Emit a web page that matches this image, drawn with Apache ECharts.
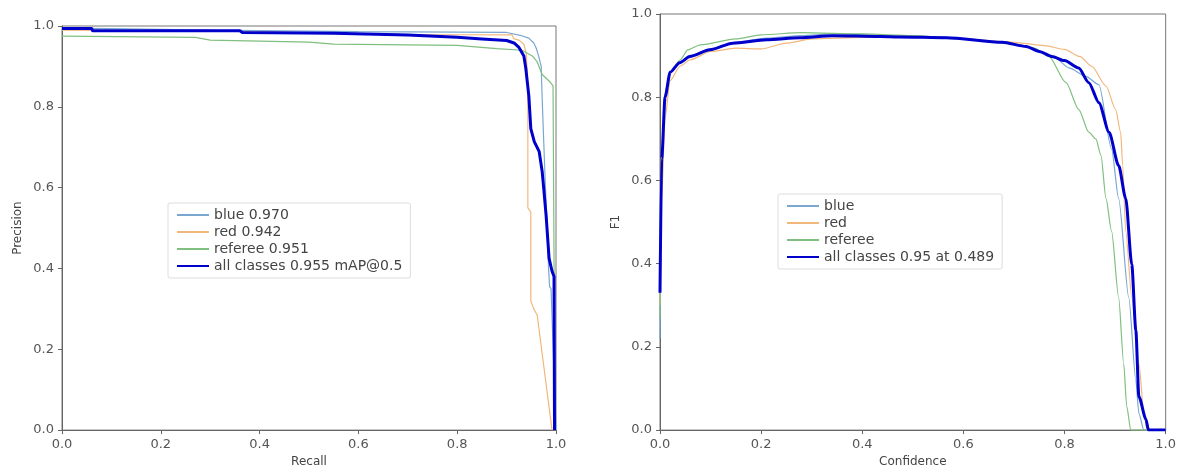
<!DOCTYPE html>
<html>
<head>
<meta charset="utf-8">
<script src="https://cdn.jsdelivr.net/npm/echarts@6/dist/echarts.min.js"></script>
<style>
  html, body { margin: 0; padding: 0; background: #fff; }
  #main { width: 1179px; height: 473px; }
</style>
</head>
<body>
<div id="main"></div>
<script>
// PR 曲线 [recall, precision]
const prBlue = [[0, 0.995], [0.06, 0.994], [0.3, 0.99], [0.6, 0.986], [0.9, 0.984], [0.93, 0.976],
  [0.945, 0.97], [0.955, 0.958], [0.96, 0.945], [0.965, 0.925], [0.97, 0.9], [0.972, 0.82],
  [0.975, 0.72], [0.978, 0.62], [0.982, 0.5], [0.985, 0.4], [0.987, 0.355], [0.99, 0.35], [1.0, 0.0]];
const prRed = [[0, 0.99], [0.3, 0.988], [0.5, 0.983], [0.7, 0.979], [0.911, 0.978], [0.915, 0.968],
  [0.925, 0.965], [0.935, 0.955], [0.94, 0.93], [0.943, 0.85], [0.943, 0.55], [0.949, 0.54],
  [0.949, 0.32], [0.955, 0.3], [0.962, 0.284], [0.992, 0.0]];
const prReferee = [[0, 0.975], [0.27, 0.972], [0.3, 0.965], [0.5, 0.96], [0.55, 0.955], [0.8, 0.952],
  [0.88, 0.944], [0.931, 0.94], [0.952, 0.926], [0.962, 0.911], [0.972, 0.88], [0.986, 0.864],
  [0.994, 0.852], [0.998, 0.85], [0.998, 0.0]];
const prAll = [[0, 0.994], [0.06, 0.994], [0.062, 0.988], [0.36, 0.988], [0.365, 0.984], [0.55, 0.982],
  [0.7, 0.978], [0.8, 0.972], [0.85, 0.968], [0.9, 0.964], [0.915, 0.958], [0.925, 0.947],
  [0.935, 0.926], [0.939, 0.894], [0.945, 0.827], [0.949, 0.746], [0.956, 0.714], [0.966, 0.689],
  [0.972, 0.64], [0.975, 0.6], [0.98, 0.531], [0.986, 0.425], [0.992, 0.393], [0.996, 0.38], [0.997, 0.0]];

// F1 曲线 [confidence, F1]
const f1Blue = [[0, 0.22], [0.003, 0.6], [0.01, 0.8], [0.02, 0.86], [0.04, 0.885], [0.06, 0.9],
  [0.1, 0.916], [0.15, 0.932], [0.21, 0.942], [0.28, 0.948], [0.34, 0.952], [0.47, 0.948],
  [0.57, 0.944], [0.68, 0.932], [0.72, 0.924], [0.75, 0.91], [0.78, 0.895], [0.81, 0.87],
  [0.842, 0.85], [0.868, 0.83], [0.893, 0.676], [0.907, 0.557], [0.927, 0.319], [0.941, 0.12],
  [0.947, 0.04], [0.957, 0.0], [1.0, 0.0]];
const f1Red = [[0, 0.3], [0.003, 0.55], [0.01, 0.75], [0.02, 0.84], [0.04, 0.875], [0.06, 0.89],
  [0.1, 0.91], [0.15, 0.918], [0.2, 0.916], [0.25, 0.93], [0.3, 0.94], [0.4, 0.944], [0.5, 0.946],
  [0.6, 0.94], [0.7, 0.932], [0.76, 0.924], [0.8, 0.915], [0.83, 0.898], [0.854, 0.874], [0.882, 0.827],
  [0.901, 0.771], [0.911, 0.716], [0.915, 0.636], [0.921, 0.478], [0.933, 0.319], [0.947, 0.16],
  [0.957, 0.04], [0.963, 0.0], [1.0, 0.0]];
const f1Referee = [[0, 0.27], [0.003, 0.6], [0.01, 0.81], [0.02, 0.86], [0.04, 0.89], [0.055, 0.914],
  [0.08, 0.926], [0.15, 0.94], [0.2, 0.95], [0.28, 0.955], [0.4, 0.952], [0.5, 0.948], [0.6, 0.94],
  [0.7, 0.928], [0.74, 0.918], [0.769, 0.898], [0.803, 0.835], [0.828, 0.771], [0.848, 0.716],
  [0.862, 0.7], [0.872, 0.66], [0.882, 0.557], [0.893, 0.478], [0.907, 0.319], [0.917, 0.16],
  [0.923, 0.057], [0.931, 0.0], [1.0, 0.0]];
const f1All = [[0, 0.33], [0.0034, 0.652], [0.01, 0.8], [0.02, 0.86], [0.039, 0.883], [0.059, 0.898],
  [0.099, 0.914], [0.144, 0.93], [0.211, 0.938], [0.276, 0.943], [0.341, 0.948], [0.434, 0.946],
  [0.473, 0.945], [0.566, 0.943], [0.677, 0.932], [0.724, 0.922], [0.75, 0.91], [0.775, 0.898],
  [0.8, 0.888], [0.828, 0.87], [0.848, 0.835], [0.868, 0.787], [0.888, 0.716], [0.907, 0.636],
  [0.921, 0.557], [0.933, 0.398], [0.941, 0.24], [0.947, 0.081], [0.961, 0.026], [0.966, 0.0], [1.0, 0.0]];

const prNames = ['blue 0.970', 'red 0.942', 'referee 0.951', 'all classes 0.955 mAP@0.5'];
const f1Names = ['blue', 'red', 'referee', 'all classes 0.95 at 0.489'];

const classColors = ['#79a7d0', '#f2b77c', '#7fbf7f'];
const allColor = '#0000cc';

const myChart = echarts.init(document.getElementById('main'));

const axisCommon = {
  type: 'value',
  min: 0,
  max: 1,
  interval: 0.2,
  nameLocation: 'middle',
  nameTextStyle: { fontFamily: 'DejaVu Sans', fontSize: 12, color: '#444' },
  axisLine: { show: true, lineStyle: { color: '#666', width: 1 } },
  axisTick: { show: true, length: 4, lineStyle: { color: '#666' } },
  axisLabel: {
    fontFamily: 'DejaVu Sans', fontSize: 13, color: '#555',
    formatter: v => v.toFixed(1)
  },
  splitLine: { show: false }
};

function lineSeries(name, data, idx, color, width, smooth) {
  return {
    name: name,
    type: 'line',
    xAxisIndex: idx,
    yAxisIndex: idx,
    data: data,
    symbol: 'none',
    smooth: smooth,
    smoothMonotone: 'x',
    animation: false,
    lineStyle: { color: color, width: width },
    itemStyle: { color: color }
  };
}

const legendCommon = {
  orient: 'vertical',
  backgroundColor: '#fff',
  borderColor: '#ddd',
  borderWidth: 1,
  borderRadius: 2,
  padding: [5, 8, 5, 8],
  itemWidth: 32,
  itemHeight: 10,
  itemGap: 3,
  selectedMode: false,
  itemStyle: { opacity: 0 },
  textStyle: { fontFamily: 'DejaVu Sans', fontSize: 14, color: '#444' }
};

const option = {
  backgroundColor: '#fff',
  grid: [
    { left: 62, top: 26, width: 494, height: 406, show: true, borderColor: '#777', borderWidth: 1 },
    { left: 660, top: 14, width: 507, height: 420, show: true, borderColor: '#777', borderWidth: 1 }
  ],
  xAxis: [
    Object.assign({}, axisCommon, { gridIndex: 0, name: 'Recall', nameGap: 25 }),
    Object.assign({}, axisCommon, { gridIndex: 1, name: 'Confidence', nameGap: 24 })
  ],
  yAxis: [
    Object.assign({}, axisCommon, { gridIndex: 0, name: 'Precision', nameGap: 38 }),
    Object.assign({}, axisCommon, { gridIndex: 1, name: 'F1', nameGap: 38 })
  ],
  legend: [
    Object.assign({}, legendCommon, { left: 168, top: 203, data: prNames }),
    Object.assign({}, legendCommon, { left: 778, top: 194, data: f1Names })
  ],
  series: [
    lineSeries(prNames[0], prBlue, 0, classColors[0], 1.2, false),
    lineSeries(prNames[1], prRed, 0, classColors[1], 1.2, false),
    lineSeries(prNames[2], prReferee, 0, classColors[2], 1.2, false),
    lineSeries(prNames[3], prAll, 0, allColor, 3, false),
    lineSeries(f1Names[0], f1Blue, 1, classColors[0], 1.2, 0.25),
    lineSeries(f1Names[1], f1Red, 1, classColors[1], 1.2, 0.25),
    lineSeries(f1Names[2], f1Referee, 1, classColors[2], 1.2, 0.25),
    lineSeries(f1Names[3], f1All, 1, allColor, 3, 0.25)
  ]
};

myChart.setOption(option);
</script>
</body>
</html>
